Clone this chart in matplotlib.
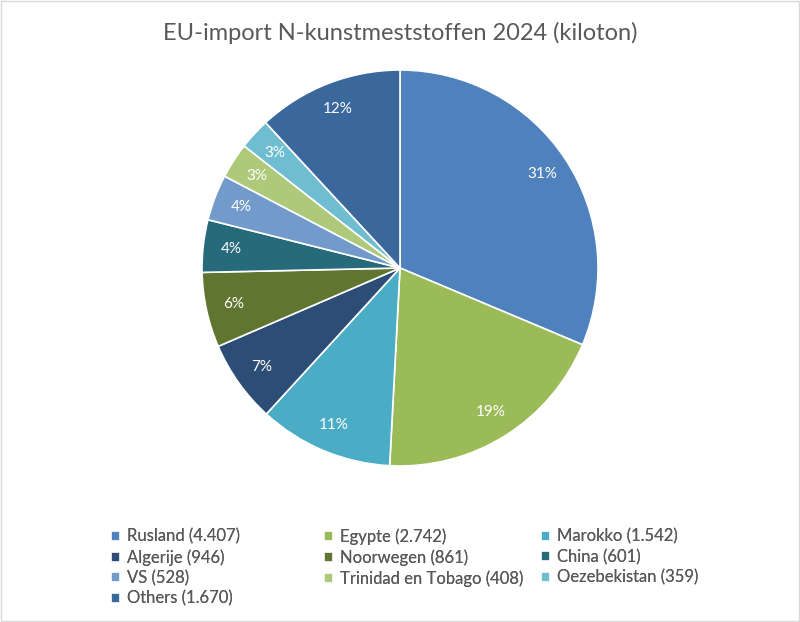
import matplotlib.pyplot as plt
from matplotlib.patches import Rectangle

# EU import of nitrogen fertilisers 2024, kiloton
countries = ['Rusland', 'Egypte', 'Marokko', 'Algerije', 'Noorwegen', 'China',
             'VS', 'Trinidad en Tobago', 'Oezebekistan', 'Others']
kiloton = [4407, 2742, 1542, 946, 861, 601, 528, 408, 359, 1670]
colors = ['#4F81BD', '#9BBB59', '#4BACC6', '#2C4D75', '#5F7530', '#276A7C',
          '#729ACA', '#AFC97A', '#6FBDD1', '#3A679C']

plt.rcParams['font.family'] = ['Lato', 'DejaVu Sans']

fig = plt.figure(figsize=(8, 6.22), dpi=100)
ax = fig.add_axes([0.2525, 0.2508, 0.495, 0.6367])

wedges, texts, autotexts = ax.pie(
    kiloton, colors=colors, startangle=90, counterclock=False,
    autopct='%1.0f%%', pctdistance=0.86,
    wedgeprops=dict(edgecolor='white', linewidth=1.2),
    textprops=dict(color='white', fontsize=11))
ax.set_aspect('equal')
ax.set_xlim(-1.0, 1.0)
ax.set_ylim(-1.0, 1.0)

fig.text(0.5, 0.947, 'EU-import N-kunstmeststoffen 2024 (kiloton)',
         ha='center', va='center', fontsize=17, color='#595959')

labels = ['%s (%s)' % (c, format(v, ',').replace(',', '.')) for c, v in zip(countries, kiloton)]

# three legend columns, entries filled row by row like the reference
ncol = 3
col_x = [0.139, 0.405, 0.676]
for col in range(ncol):
    idx = list(range(col, len(labels), ncol))
    leg = fig.legend([wedges[i] for i in idx], [labels[i] for i in idx],
                     loc='upper left', bbox_to_anchor=(col_x[col], 0.15),
                     frameon=False, fontsize=12, handlelength=0.55, handleheight=0.55,
                     handletextpad=0.4, labelspacing=0.26, borderaxespad=0,
                     borderpad=0)
    for t in leg.get_texts():
        t.set_color('#595959')
    fig.add_artist(leg)

fig.patches.append(Rectangle((0.001, 0.001), 0.998, 0.998, transform=fig.transFigure,
                             fill=False, edgecolor='#D9D9D9', linewidth=1))

fig.savefig('out.png', dpi=100)
